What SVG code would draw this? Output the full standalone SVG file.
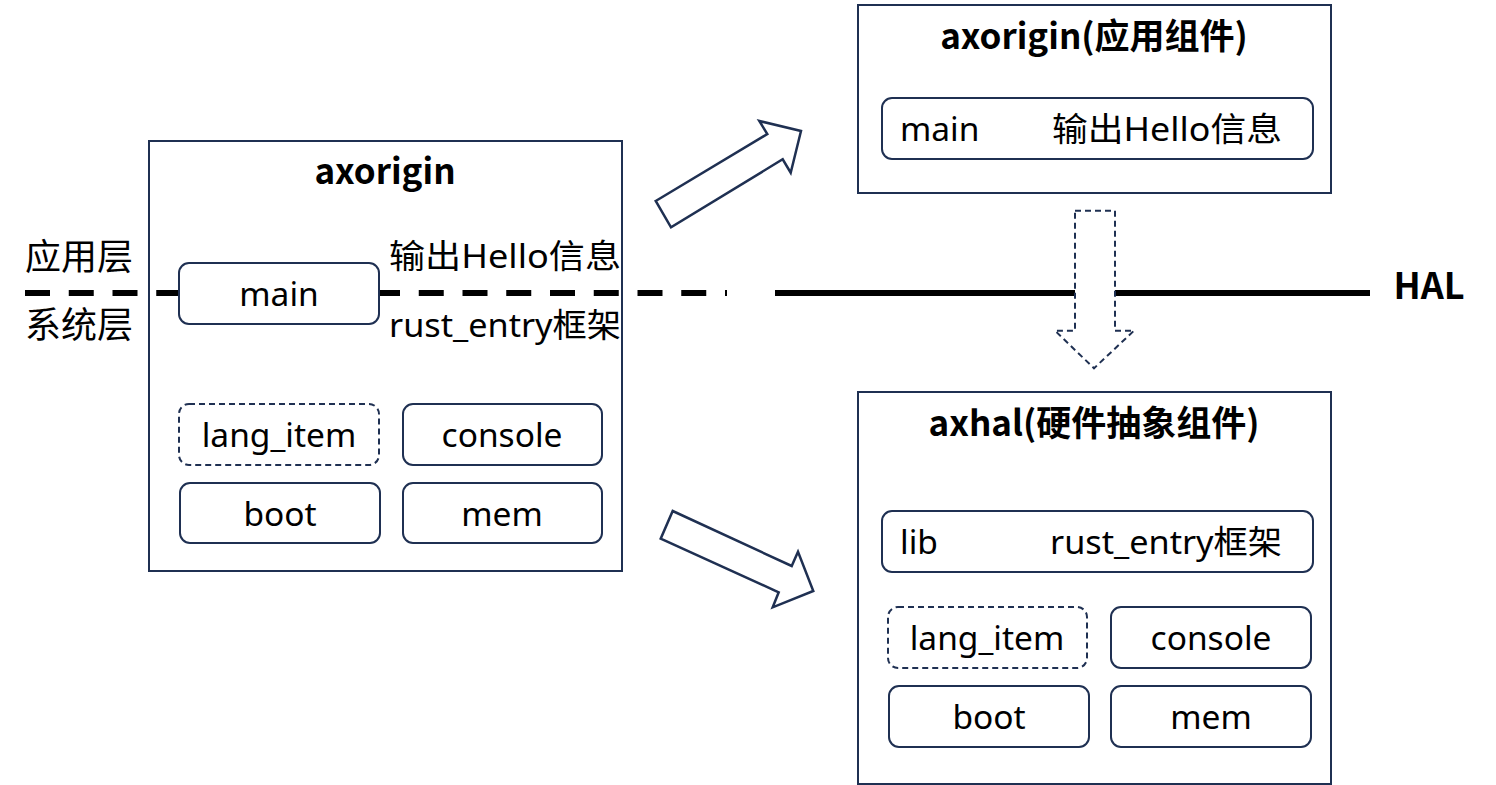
<svg xmlns="http://www.w3.org/2000/svg" width="1496" height="785" viewBox="0 0 1496 785">
<style>
.frame{fill:none;stroke:#1f3052;stroke-width:2}
.box{fill:#fff;stroke:#1f3052;stroke-width:2}
.dbox{fill:#fff;stroke:#1f3052;stroke-width:2;stroke-dasharray:6 4}
.t{font-family:"Noto Sans","Noto Sans CJK SC",sans-serif;font-size:33.5px;fill:#000}
.c{text-anchor:middle}
.b{font-family:"Noto Sans CJK SC","Noto Sans",sans-serif;font-weight:bold;font-size:35px;fill:#000;text-anchor:middle}
.arrow{fill:#fff;stroke:#1f3052;stroke-width:2.5}
</style>
<g id="layers">
<line x1="25" y1="293" x2="727" y2="293" stroke="#000" stroke-width="6" stroke-dasharray="25 18.75"/>
<line x1="775" y1="293" x2="1370" y2="293" stroke="#000" stroke-width="6"/>
<text class="t" x="25" y="270" style="font-size:36px">应用层</text>
<text class="t" x="25" y="338" style="font-size:36px">系统层</text>
<text class="b" x="1429" y="299" style="font-size:36px">HAL</text>
</g>
<g id="axorigin">
<rect class="frame" x="149" y="141" width="473" height="430"/>
<text class="b" x="385" y="184">axorigin</text>
<rect class="box" x="179" y="263" width="200" height="61" rx="10"/>
<text class="t c" x="279" y="306">main</text>
<text class="t" x="389" y="268" textLength="232" lengthAdjust="spacingAndGlyphs">输出Hello信息</text>
<text class="t" x="389" y="337" textLength="232" lengthAdjust="spacingAndGlyphs">rust_entry框架</text>
<rect class="dbox" x="179" y="404" width="200" height="61" rx="10"/>
<text class="t c" x="279" y="447">lang_item</text>
<rect class="box" x="403" y="404" width="199" height="61" rx="10"/>
<text class="t c" x="502" y="447">console</text>
<rect class="box" x="180" y="483" width="200" height="60" rx="10"/>
<text class="t c" x="280" y="526">boot</text>
<rect class="box" x="403" y="483" width="199" height="60" rx="10"/>
<text class="t c" x="502" y="526">mem</text>
</g>
<g id="axorigin-app">
<rect class="frame" x="858" y="5" width="473" height="188"/>
<text class="b" x="1094" y="49">axorigin(应用组件)</text>
<rect class="box" x="882" y="98" width="431" height="61" rx="10"/>
<text class="t" x="900" y="141">main</text>
<text class="t" x="1052" y="141" textLength="230" lengthAdjust="spacingAndGlyphs">输出Hello信息</text>
</g>
<g id="axhal">
<rect class="frame" x="858" y="392" width="473" height="392"/>
<text class="b" x="1094" y="436">axhal(硬件抽象组件)</text>
<rect class="box" x="882" y="511" width="431" height="61" rx="10"/>
<text class="t" x="900" y="554">lib</text>
<text class="t" x="1050" y="554" textLength="232" lengthAdjust="spacingAndGlyphs">rust_entry框架</text>
<rect class="dbox" x="888" y="607" width="199" height="61" rx="10"/>
<text class="t c" x="987" y="650">lang_item</text>
<rect class="box" x="1111" y="607" width="200" height="61" rx="10"/>
<text class="t c" x="1211" y="650">console</text>
<rect class="box" x="889" y="686" width="200" height="61" rx="10"/>
<text class="t c" x="989" y="729">boot</text>
<rect class="box" x="1111" y="686" width="200" height="61" rx="10"/>
<text class="t c" x="1211" y="729">mem</text>
</g>
<g id="connectors">
<polygon class="arrow" points="655.7,201 767.3,134 759.3,121 801,131 790.7,172.7 782.7,159.3 671,227.3"/>
<polygon class="arrow" points="672.7,511 791.7,566 798,551.7 813.3,591 772.7,607.3 778.7,592.3 660.7,538.7"/>
<polygon points="1075,210.7 1115,210.7 1115,330.7 1134,330.7 1094,368.3 1055,330.7 1075,330.7" fill="#fff" stroke="#1f3052" stroke-width="2" stroke-dasharray="6 4"/>
</g>
</svg>
